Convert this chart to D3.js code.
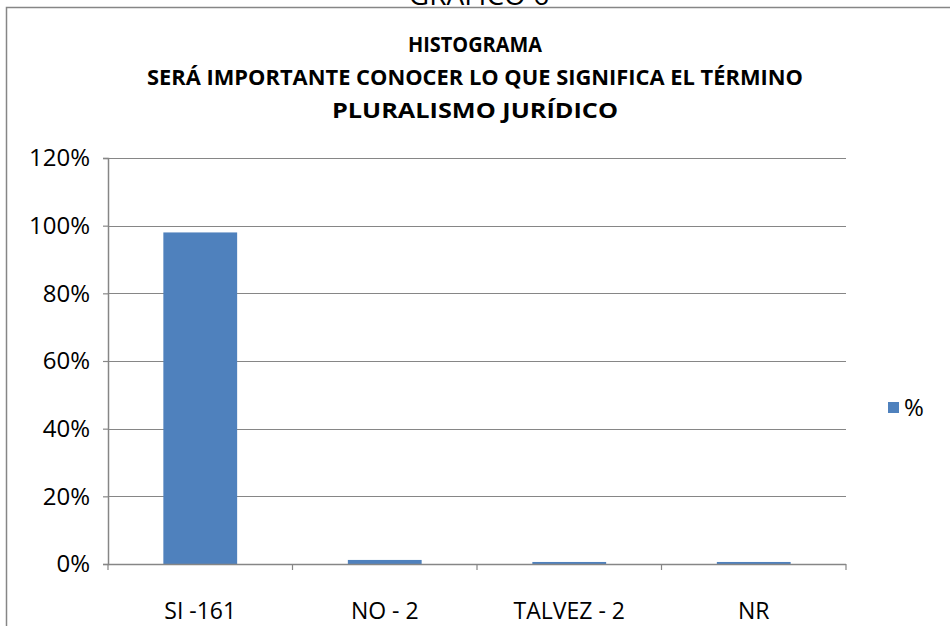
<!DOCTYPE html>
<html>
<head>
<meta charset="utf-8">
<script src="https://cdn.jsdelivr.net/npm/d3@7"></script>
<style>
  body { margin: 0; background: #fff; }
  svg text { font-family: "Open Sans", "Liberation Sans", sans-serif; }
</style>
</head>
<body>
<div id="chart"></div>
<script>
var svgWidth = 950;
var svgHeight = 626;

// data
var categories = ["SI -161", "NO - 2", "TALVEZ - 2", "NR"];
var percents = [0.98, 0.012, 0.006, 0.006];
var yTicks = [0, 0.2, 0.4, 0.6, 0.8, 1.0, 1.2];
var titleLines = ["HISTOGRAMA", "SERÁ IMPORTANTE CONOCER LO QUE SIGNIFICA EL TÉRMINO", "PLURALISMO JURÍDICO"];
var seriesName = "%";

var margin = { top: 158, right: 104, bottom: 62, left: 108 };
var width = svgWidth - margin.left - margin.right;
var height = svgHeight - margin.top - margin.bottom;

var svg = d3.select("#chart")
  .append("svg")
  .attr("width", svgWidth)
  .attr("height", svgHeight);

// caption above the frame, mostly cut off by the page edge
svg.append("text")
  .attr("x", 479).attr("y", 5)
  .attr("text-anchor", "middle")
  .attr("font-size", "28px")
  .attr("fill", "#000")
  .text("GRAFICO 6");

// outer chart frame (runs off the right/bottom edges)
svg.append("rect")
  .attr("x", 6.5).attr("y", 7.5)
  .attr("width", 960).attr("height", 640)
  .attr("fill", "#fff")
  .attr("stroke", "#868686")
  .attr("stroke-width", 1.5);

// title
svg.selectAll(".title")
  .data(titleLines)
  .enter()
  .append("text")
  .attr("class", "title")
  .attr("x", 475)
  .attr("y", (d, i) => 52 + i * 33)
  .attr("text-anchor", "middle")
  .attr("font-size", "21px")
  .attr("font-weight", "bold")
  .attr("textLength", (d, i) => [134, 656, 286][i])
  .attr("lengthAdjust", "spacingAndGlyphs")
  .text(d => d);

var chartgroup = svg.append("g")
  .attr("transform", `translate(${margin.left}, ${margin.top})`);

var xScale = d3.scaleBand()
  .domain(categories)
  .range([0, width])
  .paddingInner(0.6)
  .paddingOuter(0.3);

var yScale = d3.scaleLinear()
  .domain([0, 1.2])
  .range([height, 0]);

// gridlines
chartgroup.append("g")
  .selectAll("line")
  .data(yTicks)
  .enter()
  .append("line")
  .attr("x1", 0).attr("x2", width)
  .attr("y1", d => Math.round(yScale(d)) + 0.5)
  .attr("y2", d => Math.round(yScale(d)) + 0.5)
  .attr("stroke", "#868686")
  .attr("stroke-width", 1.2);

// bars
chartgroup.selectAll(".bar")
  .data(percents)
  .enter()
  .append("rect")
  .attr("class", "bar")
  .attr("x", (d, i) => xScale(categories[i]))
  .attr("width", xScale.bandwidth())
  .attr("y", d => yScale(d))
  .attr("height", d => height - yScale(d))
  .attr("fill", "#4F81BD");

// left axis
var leftAxis = d3.axisLeft(yScale)
  .tickValues(yTicks)
  .tickFormat(d3.format(".0%"))
  .tickSize(5)
  .tickPadding(13);

var yAxisG = chartgroup.append("g").call(leftAxis);
yAxisG.select(".domain").attr("stroke", "#868686").attr("stroke-width", 1.5);
yAxisG.selectAll(".tick line").attr("stroke", "#868686").attr("stroke-width", 1.2);
yAxisG.selectAll(".tick text")
  .attr("font-size", "24px")
  .attr("fill", "#000")
  .style("font-family", "'Open Sans', sans-serif");

// bottom axis with ticks at band boundaries
var boundaries = d3.range(categories.length + 1).map(i => i * width / categories.length);
var xAxisG = chartgroup.append("g").attr("transform", `translate(0, ${height})`);
xAxisG.append("line")
  .attr("x1", 0).attr("x2", width)
  .attr("y1", 0.5).attr("y2", 0.5)
  .attr("stroke", "#868686").attr("stroke-width", 1.5);
xAxisG.selectAll(".btick")
  .data(boundaries)
  .enter()
  .append("line")
  .attr("x1", d => d).attr("x2", d => d)
  .attr("y1", 0).attr("y2", 6)
  .attr("stroke", "#868686").attr("stroke-width", 1.2);
xAxisG.selectAll(".clabel")
  .data(categories)
  .enter()
  .append("text")
  .attr("x", d => xScale(d) + xScale.bandwidth() / 2)
  .attr("y", 55)
  .attr("text-anchor", "middle")
  .attr("font-size", "23px")
  .attr("fill", "#000")
  .text(d => d);

// legend
var legend = svg.append("g").attr("transform", "translate(888, 402)");
legend.append("rect")
  .attr("width", 11).attr("height", 11)
  .attr("fill", "#4F81BD");
legend.append("text")
  .attr("x", 16).attr("y", 14)
  .attr("font-size", "24px")
  .attr("fill", "#000")
  .text(seriesName);
</script>
</body>
</html>
